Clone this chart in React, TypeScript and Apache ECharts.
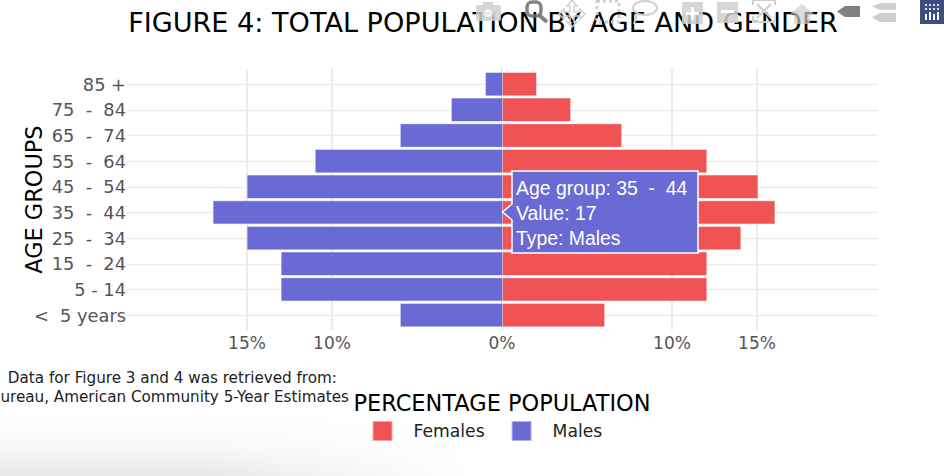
import React, { useEffect, useRef } from "react";
import * as echarts from "echarts";

const categories = ["<  5 years", "5 - 14", "15  -  24", "25  -  34", "35  -  44", "45  -  54", "55  -  64", "65  -  74", "75  -  84", "85 +"];
const females = [6, 12, 12, 14, 16, 15, 12, 7, 4, 2];
const males = [-6, -13, -13, -15, -17, -15, -11, -6, -3, -1];
const xTicks = [-15, -10, 0, 10, 15];
const FONT = "DejaVu Sans";
const RED = "#EF5353";
const BLUE = "#6A6AD5";
const GRID = "#ebebeb";
const ICON = "#cfcfcf";

const T = (x: number, y: number, text: string, extra: any = {}) => ({
  type: "text", x, y, z: 20,
  style: { text, fontFamily: FONT, fontSize: 15.2, fill: "#222", textVerticalAlign: "middle", ...extra },
});

const bg = [
  {
    type: "rect", z: -10, silent: true, shape: { x: 0, y: 415, width: 470, height: 61 },
    style: {
      fill: new echarts.graphic.LinearGradient(0, 0, 0, 1, [
        { offset: 0, color: "#ffffff" },
        { offset: 0.5, color: "#f8f8f8" },
        { offset: 1, color: "#e8e8e8" },
      ]),
    },
  },
  {
    type: "rect", z: -9, silent: true, shape: { x: 200, y: 415, width: 271, height: 61 },
    style: {
      fill: new echarts.graphic.LinearGradient(0, 0, 1, 0, [
        { offset: 0, color: "rgba(255,255,255,0)" },
        { offset: 1, color: "rgba(255,255,255,1)" },
      ]),
    },
  },
];

const tooltip = [
  {
    type: "polygon", z: 30,
    shape: { points: [[512, 171], [698, 171], [698, 253], [512, 253], [512, 220], [502.5, 212], [512, 204]] },
    style: { fill: BLUE, stroke: "#fff", lineWidth: 1.5 },
  },
  ...[["Age group: 35  -  44", 188], ["Value: 17", 213], ["Type: Males", 238]].map(([t, y]) => ({
    type: "text", x: 516, y, z: 31,
    style: { text: t, fontFamily: "Liberation Sans", fontSize: 19.4, fill: "#fff", textVerticalAlign: "middle" },
  })),
];

const tag = (x: number, y: number, w: number, h: number, color: string) => ({
  type: "polygon", z: 40,
  shape: { points: [[x, y + h / 2], [x + 8, y], [x + w, y], [x + w, y + h], [x + 8, y + h]] },
  style: { fill: color },
});

const toolbar: any[] = [
  { type: "rect", z: 40, shape: { x: 476, y: 5, width: 25, height: 16, r: 2 }, style: { fill: ICON, opacity: 0.85 } },
  { type: "rect", z: 40, shape: { x: 483, y: 2, width: 10, height: 4 }, style: { fill: ICON, opacity: 0.85 } },
  { type: "circle", z: 41, shape: { cx: 488, cy: 13, r: 5 }, style: { fill: "#fff", stroke: ICON, lineWidth: 2, opacity: 0.7 } },
  { type: "rect", z: 40, shape: { x: 527, y: 2, width: 14, height: 14, r: 5 }, style: { fill: "none", stroke: "#6f6f6f", lineWidth: 3.5, opacity: 0.85 } },
  { type: "line", z: 40, shape: { x1: 539, y1: 15, x2: 547, y2: 22 }, style: { stroke: "#6f6f6f", lineWidth: 4, opacity: 0.85 } },
  { type: "polygon", z: 40, shape: { points: [[572, 0], [577, 6], [574, 6], [574, 12], [580, 12], [580, 9], [585, 14], [580, 19], [580, 16], [574, 16], [574, 22], [577, 22], [572, 27], [567, 22], [570, 22], [570, 16], [564, 16], [564, 19], [559, 14], [564, 9], [564, 12], [570, 12], [570, 6], [567, 6]] }, style: { fill: "none", stroke: ICON, lineWidth: 1.5 } },
  { type: "rect", z: 40, shape: { x: 597, y: 1, width: 22, height: 21 }, style: { fill: "none", stroke: ICON, lineWidth: 3, lineDash: [3, 3] } },
  { type: "ellipse", z: 40, shape: { cx: 645, cy: 8, rx: 12, ry: 7 }, style: { fill: "none", stroke: ICON, lineWidth: 2 } },
  { type: "line", z: 40, shape: { x1: 637, y1: 14, x2: 634, y2: 24 }, style: { stroke: ICON, lineWidth: 2 } },
  { type: "rect", z: 40, shape: { x: 682, y: 2, width: 21, height: 22 }, style: { fill: ICON, opacity: 0.85 } },
  { type: "rect", z: 41, shape: { x: 691, y: 7, width: 3, height: 13 }, style: { fill: "#fff" } },
  { type: "rect", z: 41, shape: { x: 686, y: 12, width: 13, height: 3 }, style: { fill: "#fff" } },
  { type: "rect", z: 40, shape: { x: 717, y: 2, width: 21, height: 21 }, style: { fill: ICON, opacity: 0.85 } },
  { type: "rect", z: 41, shape: { x: 721, y: 10, width: 13, height: 3 }, style: { fill: "#fff" } },
  { type: "polyline", z: 40, shape: { points: [[753, 5], [753, 0], [775, 0], [775, 5]] }, style: { fill: "none", stroke: ICON, lineWidth: 2 } },
  { type: "polyline", z: 40, shape: { points: [[753, 16], [753, 22], [775, 22], [775, 16]] }, style: { fill: "none", stroke: ICON, lineWidth: 2 } },
  { type: "line", z: 40, shape: { x1: 757, y1: 4, x2: 771, y2: 18 }, style: { stroke: ICON, lineWidth: 2 } },
  { type: "line", z: 40, shape: { x1: 771, y1: 4, x2: 757, y2: 18 }, style: { stroke: ICON, lineWidth: 2 } },
  { type: "polygon", z: 40, shape: { points: [[802, 4], [814, 14], [810, 14], [810, 24], [794, 24], [794, 14], [790, 14]] }, style: { fill: ICON, opacity: 0.7 } },
  tag(837, 6, 23, 11, "#808080"),
  tag(872, 3, 24, 7, ICON),
  tag(872, 13, 24, 9, ICON),
  { type: "rect", z: 40, shape: { x: 920, y: 0, width: 24, height: 24 }, style: { fill: "#3e4d80" } },
  ...[[925, 14, 6], [929, 12, 8], [933, 14, 6], [937, 12, 8]].map(([x, y, h]) => ({
    type: "rect", z: 41, shape: { x, y, width: 2, height: h }, style: { fill: "#fff" },
  })),
  ...[925, 929, 933, 937].flatMap((x) => [4, 8].map((y) => ({
    type: "rect", z: 41, shape: { x, y, width: 2, height: 2 }, style: { fill: "#cfe3ef" },
  }))),
];

export default function App() {
  const ref = useRef<HTMLDivElement>(null);
  useEffect(() => {
    document.body.style.margin = "0";
    const chart = echarts.init(ref.current!, null, { renderer: "svg" });
    chart.setOption({
      animation: false,
      backgroundColor: "#fff",
      textStyle: { fontFamily: FONT },
      title: {
        text: "FIGURE 4: TOTAL POPULATION BY AGE AND GENDER",
        left: 478, top: 4, textAlign: "center",
        textStyle: { fontFamily: FONT, fontSize: 27.1, fontWeight: "normal", color: "#000" },
      },
      legend: {
        data: ["Females", "Males"], left: 367.5, top: 416, itemWidth: 18, itemHeight: 18, itemGap: 27,
        icon: "rect", textStyle: { fontFamily: FONT, fontSize: 17.2, color: "#222", padding: [0, 0, 0, 17] },
      },
      grid: [
        { left: 127, right: 67, top: 69, height: 261, outerBoundsMode: "none" },
        { left: 127, right: 66, top: 71.3, height: 256.6, outerBoundsMode: "none" },
      ],
      xAxis: [
        {
          gridIndex: 0, type: "value", min: -22.06, max: 22.06,
          name: "PERCENTAGE POPULATION", nameLocation: "middle", nameGap: 62, nameMoveOverlap: false,
          nameTextStyle: { fontFamily: FONT, fontSize: 22.45, color: "#000" },
          axisLine: { show: false },
          axisTick: { show: false, customValues: xTicks },
          axisLabel: {
            customValues: xTicks, margin: 4, fontSize: 17, color: "#555", fontFamily: FONT,
            formatter: (v: number) => `${Math.abs(v)}%`,
          },
          splitLine: { show: true, customValues: xTicks, lineStyle: { color: GRID, width: 2 } },
        },
        {
          gridIndex: 1, type: "value", min: -22.06, max: 22.06, show: false,
          splitLine: { show: false },
        },
      ],
      yAxis: [
        { gridIndex: 0, type: "category", data: categories, show: false },
        {
          gridIndex: 1, type: "category", data: categories,
          name: "AGE GROUPS", nameLocation: "middle", nameRotate: 90, nameGap: 82, nameMoveOverlap: false,
          nameTextStyle: { fontFamily: FONT, fontSize: 22.4, color: "#000" },
          axisLine: { show: false },
          axisTick: { show: false },
          axisLabel: { interval: 0, margin: 1, fontSize: 17.8, color: "#555", fontFamily: FONT, padding: [0, 0, 2, 0] },
          splitLine: { show: true, interval: 0, alignWithLabel: true, lineStyle: { color: GRID, width: 1.4 } },
        },
      ],
      series: [
        {
          name: "Females", type: "bar", xAxisIndex: 1, yAxisIndex: 1, data: females, barGap: "-100%", barCategoryGap: "9%",
          itemStyle: { color: RED, borderColor: "rgba(239,83,83,0.5)", borderWidth: 1 },
        },
        {
          name: "Males", type: "bar", xAxisIndex: 1, yAxisIndex: 1, data: males,
          itemStyle: { color: BLUE, borderColor: "rgba(106,106,213,0.5)", borderWidth: 1 },
        },
      ],
      graphic: [
        ...bg,
        T(337, 378, "Data for Figure 3 and 4 was retrieved from:", { textAlign: "right" }),
        T(349, 397, "ureau, American Community 5-Year Estimates", { textAlign: "right" }),
        ...tooltip,
        ...toolbar,
      ],
    });
    return () => chart.dispose();
  }, []);
  return <div ref={ref} style={{ width: 944, height: 476 }} />;
}
